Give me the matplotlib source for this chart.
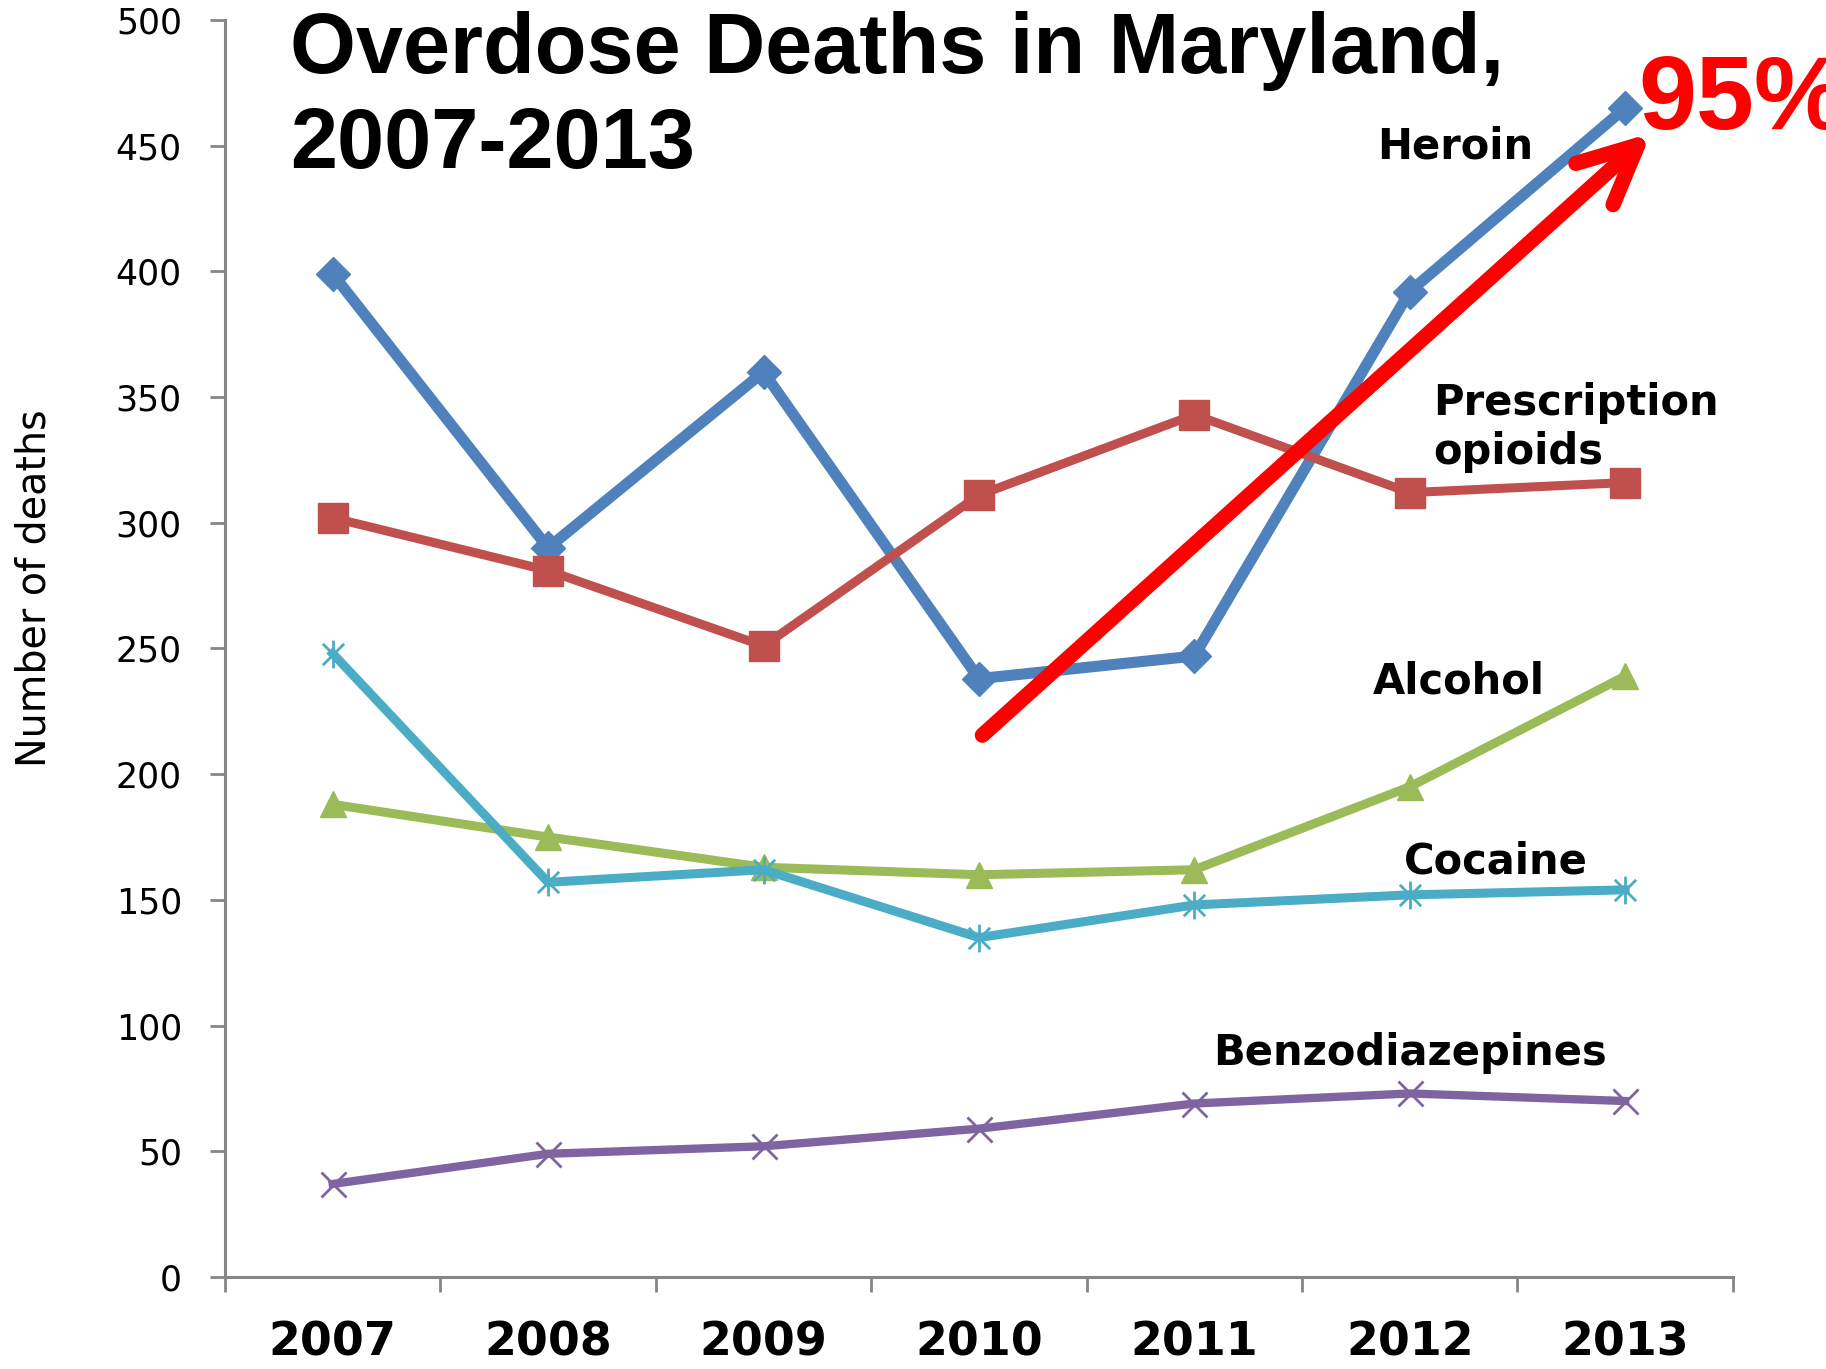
import matplotlib
matplotlib.use("Agg")
import matplotlib.pyplot as plt
from matplotlib.path import Path
import numpy as np

years = ["2007", "2008", "2009", "2010", "2011", "2012", "2013"]
heroin = [399, 290, 360, 238, 247, 392, 465]
opioids = [302, 281, 251, 311, 343, 312, 316]
alcohol = [188, 175, 163, 160, 162, 195, 239]
cocaine = [248, 157, 162, 135, 148, 152, 154]
benzos = [37, 49, 52, 59, 69, 73, 70]

yticks = list(range(0, 501, 50))

series_labels = ["Heroin", "Prescription\nopioids", "Alcohol", "Cocaine", "Benzodiazepines"]
label_pos = [(5.21, 449.5), (5.11, 338), (5.23, 236.8), (5.40, 165.4), (5.0, 89)]
label_ha = ["center", "left", "center", "center", "center"]

arrow_start = (3.016, 215.5)
arrow_end = (6.12, 455)
pct_text = "95%"
pct_pos = (6.06, 467)

title = "Overdose Deaths in Maryland,\n2007-2013"

fig = plt.figure(figsize=(18.26, 13.69), dpi=100)
ax = fig.add_axes([0.1232, 0.0672, 0.949 - 0.1232, 0.9854 - 0.0672])

x = np.arange(len(years))

star_path = Path(
    [(-1, -1), (1, 1), (-1, 1), (1, -1), (0, -1.3), (0, 1.3)],
    [Path.MOVETO, Path.LINETO, Path.MOVETO, Path.LINETO, Path.MOVETO, Path.LINETO],
)

ax.plot(x, heroin, color="#4F81BD", lw=8, marker="D", ms=17, zorder=3)
ax.plot(x, opioids, color="#C0504D", lw=6.5, marker="s", ms=21, zorder=3)
ax.plot(x, alcohol, color="#9BBB59", lw=6.5, marker="^", ms=19, zorder=3)
ax.plot(x, cocaine, color="#4BACC6", lw=6.5, marker=star_path, ms=20, mew=2,
        mec="#4BACC6", zorder=3)
ax.plot(x, benzos, color="#8064A2", lw=6, marker="x", ms=18, mew=2, zorder=3)

ax.set_xlim(-0.5, len(years) - 0.5)
ax.set_ylim(0, 500)

ax.set_xticks(np.arange(-0.5, len(years), 1.0))
ax.set_xticklabels([])
ax.set_xticks(x, minor=True)
ax.set_xticklabels(years, minor=True, fontsize=33, fontweight="bold",
                   family="DejaVu Sans")
ax.tick_params(axis="x", which="minor", length=0, pad=31)
ax.tick_params(axis="x", which="major", length=11, width=2, color="#868686",
               direction="out")

ax.set_yticks(yticks)
ax.set_yticklabels([str(v) for v in yticks], fontsize=25, family="DejaVu Sans")
ax.tick_params(axis="y", length=11, width=2, color="#868686", direction="out", pad=20)

for s in ["top", "right"]:
    ax.spines[s].set_visible(False)
for s in ["left", "bottom"]:
    ax.spines[s].set_color("#868686")
    ax.spines[s].set_linewidth(2.2)

for lab, (lx, ly), ha in zip(series_labels, label_pos, label_ha):
    ax.text(lx, ly, lab, ha=ha, va="center", fontsize=30, fontweight="bold",
            family="DejaVu Sans", linespacing=1.2, zorder=5)

ax.annotate("", xy=arrow_end, xytext=arrow_start,
            arrowprops=dict(arrowstyle="->,head_length=2.1,head_width=1.0",
                            lw=11, color="#FF0000", mutation_scale=20,
                            shrinkA=0, shrinkB=0, capstyle="round",
                            joinstyle="round"),
            zorder=6)
ax.text(pct_pos[0], pct_pos[1], pct_text, color="#FF0000", fontsize=75,
        fontweight="bold", family="Liberation Sans", ha="left", va="center",
        clip_on=False, zorder=7)

fig.text(0.159, 0.992, title, fontsize=61, fontweight="bold",
         family="Liberation Sans", ha="left", va="top", linespacing=1.25)

fig.text(0.019, 0.5705, "Number of deaths", rotation=90, fontsize=28.5,
         family="DejaVu Sans", ha="center", va="center")

fig.savefig("out.png", dpi=100, facecolor="white")
